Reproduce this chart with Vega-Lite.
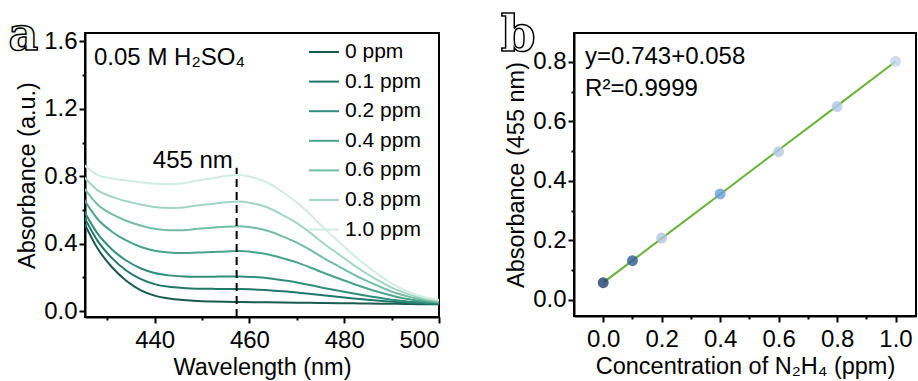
{
"$schema":"https://vega.github.io/schema/vega-lite/v6.json",
"background":"white",
"padding":{"left":7,"top":9,"right":0,"bottom":0},
"bounds":"flush",
"spacing":135,
"resolve":{"scale":{"color":"independent"},"legend":{"color":"independent"}},
"config":{
 "font":"Liberation Sans",
 "view":{"stroke":"black","strokeWidth":2},
 "axis":{"grid":false,"domainColor":"black","domainWidth":2,"tickColor":"black","tickWidth":2,"tickSize":6,"labelFontSize":24,"labelColor":"black","labelPadding":2,"titleFontSize":23.5,"titleFontWeight":"normal","titleColor":"black","labelOverlap":false},
 "axisBottom":{"labelPadding":5},
 "text":{"font":"Liberation Sans","color":"black"}
},
"hconcat":[
{
 "width":354,"height":284,
 "resolve":{"axis":{"x":"independent","y":"independent"}},
 "layer":[
 {
  "data":{"values":[
{"c":"0 ppm","w":425,"a":0.53},{"c":"0 ppm","w":428,"a":0.37},{"c":"0 ppm","w":431,"a":0.26},{"c":"0 ppm","w":434,"a":0.18},{"c":"0 ppm","w":437,"a":0.125},{"c":"0 ppm","w":440,"a":0.092},{"c":"0 ppm","w":443,"a":0.075},{"c":"0 ppm","w":446,"a":0.066},{"c":"0 ppm","w":449,"a":0.06},{"c":"0 ppm","w":452,"a":0.057},{"c":"0 ppm","w":455,"a":0.055},{"c":"0 ppm","w":458,"a":0.054},{"c":"0 ppm","w":461,"a":0.053},{"c":"0 ppm","w":464,"a":0.052},{"c":"0 ppm","w":467,"a":0.051},{"c":"0 ppm","w":470,"a":0.05},{"c":"0 ppm","w":473,"a":0.049},{"c":"0 ppm","w":476,"a":0.048},{"c":"0 ppm","w":479,"a":0.047},{"c":"0 ppm","w":482,"a":0.046},{"c":"0 ppm","w":485,"a":0.045},{"c":"0 ppm","w":488,"a":0.044},{"c":"0 ppm","w":491,"a":0.043},{"c":"0 ppm","w":494,"a":0.042},{"c":"0 ppm","w":497,"a":0.041},{"c":"0 ppm","w":500,"a":0.04},
{"c":"0.1 ppm","w":425,"a":0.565},{"c":"0.1 ppm","w":428,"a":0.415},{"c":"0.1 ppm","w":431,"a":0.314},{"c":"0.1 ppm","w":434,"a":0.241},{"c":"0.1 ppm","w":437,"a":0.191},{"c":"0.1 ppm","w":440,"a":0.16},{"c":"0.1 ppm","w":443,"a":0.144},{"c":"0.1 ppm","w":446,"a":0.137},{"c":"0.1 ppm","w":449,"a":0.133},{"c":"0.1 ppm","w":452,"a":0.132},{"c":"0.1 ppm","w":455,"a":0.131},{"c":"0.1 ppm","w":458,"a":0.131},{"c":"0.1 ppm","w":461,"a":0.128},{"c":"0.1 ppm","w":464,"a":0.124},{"c":"0.1 ppm","w":467,"a":0.118},{"c":"0.1 ppm","w":470,"a":0.111},{"c":"0.1 ppm","w":473,"a":0.102},{"c":"0.1 ppm","w":476,"a":0.093},{"c":"0.1 ppm","w":479,"a":0.084},{"c":"0.1 ppm","w":482,"a":0.075},{"c":"0.1 ppm","w":485,"a":0.067},{"c":"0.1 ppm","w":488,"a":0.06},{"c":"0.1 ppm","w":491,"a":0.054},{"c":"0.1 ppm","w":494,"a":0.049},{"c":"0.1 ppm","w":497,"a":0.045},{"c":"0.1 ppm","w":500,"a":0.043},
{"c":"0.2 ppm","w":425,"a":0.598},{"c":"0.2 ppm","w":428,"a":0.458},{"c":"0.2 ppm","w":431,"a":0.366},{"c":"0.2 ppm","w":434,"a":0.3},{"c":"0.2 ppm","w":437,"a":0.254},{"c":"0.2 ppm","w":440,"a":0.226},{"c":"0.2 ppm","w":443,"a":0.212},{"c":"0.2 ppm","w":446,"a":0.206},{"c":"0.2 ppm","w":449,"a":0.204},{"c":"0.2 ppm","w":452,"a":0.204},{"c":"0.2 ppm","w":455,"a":0.206},{"c":"0.2 ppm","w":458,"a":0.206},{"c":"0.2 ppm","w":461,"a":0.202},{"c":"0.2 ppm","w":464,"a":0.195},{"c":"0.2 ppm","w":467,"a":0.183},{"c":"0.2 ppm","w":470,"a":0.17},{"c":"0.2 ppm","w":473,"a":0.154},{"c":"0.2 ppm","w":476,"a":0.136},{"c":"0.2 ppm","w":479,"a":0.12},{"c":"0.2 ppm","w":482,"a":0.104},{"c":"0.2 ppm","w":485,"a":0.089},{"c":"0.2 ppm","w":488,"a":0.076},{"c":"0.2 ppm","w":491,"a":0.064},{"c":"0.2 ppm","w":494,"a":0.056},{"c":"0.2 ppm","w":497,"a":0.049},{"c":"0.2 ppm","w":500,"a":0.045},
{"c":"0.4 ppm","w":425,"a":0.666},{"c":"0.4 ppm","w":428,"a":0.545},{"c":"0.4 ppm","w":431,"a":0.471},{"c":"0.4 ppm","w":434,"a":0.419},{"c":"0.4 ppm","w":437,"a":0.382},{"c":"0.4 ppm","w":440,"a":0.358},{"c":"0.4 ppm","w":443,"a":0.347},{"c":"0.4 ppm","w":446,"a":0.344},{"c":"0.4 ppm","w":449,"a":0.347},{"c":"0.4 ppm","w":452,"a":0.35},{"c":"0.4 ppm","w":455,"a":0.354},{"c":"0.4 ppm","w":458,"a":0.356},{"c":"0.4 ppm","w":461,"a":0.349},{"c":"0.4 ppm","w":464,"a":0.336},{"c":"0.4 ppm","w":467,"a":0.314},{"c":"0.4 ppm","w":470,"a":0.289},{"c":"0.4 ppm","w":473,"a":0.257},{"c":"0.4 ppm","w":476,"a":0.223},{"c":"0.4 ppm","w":479,"a":0.192},{"c":"0.4 ppm","w":482,"a":0.161},{"c":"0.4 ppm","w":485,"a":0.133},{"c":"0.4 ppm","w":488,"a":0.107},{"c":"0.4 ppm","w":491,"a":0.085},{"c":"0.4 ppm","w":494,"a":0.069},{"c":"0.4 ppm","w":497,"a":0.058},{"c":"0.4 ppm","w":500,"a":0.051},
{"c":"0.6 ppm","w":425,"a":0.733},{"c":"0.6 ppm","w":428,"a":0.631},{"c":"0.6 ppm","w":431,"a":0.575},{"c":"0.6 ppm","w":434,"a":0.536},{"c":"0.6 ppm","w":437,"a":0.508},{"c":"0.6 ppm","w":440,"a":0.488},{"c":"0.6 ppm","w":443,"a":0.48},{"c":"0.6 ppm","w":446,"a":0.48},{"c":"0.6 ppm","w":449,"a":0.488},{"c":"0.6 ppm","w":452,"a":0.494},{"c":"0.6 ppm","w":455,"a":0.501},{"c":"0.6 ppm","w":458,"a":0.504},{"c":"0.6 ppm","w":461,"a":0.494},{"c":"0.6 ppm","w":464,"a":0.475},{"c":"0.6 ppm","w":467,"a":0.443},{"c":"0.6 ppm","w":470,"a":0.406},{"c":"0.6 ppm","w":473,"a":0.36},{"c":"0.6 ppm","w":476,"a":0.309},{"c":"0.6 ppm","w":479,"a":0.263},{"c":"0.6 ppm","w":482,"a":0.217},{"c":"0.6 ppm","w":485,"a":0.176},{"c":"0.6 ppm","w":488,"a":0.139},{"c":"0.6 ppm","w":491,"a":0.106},{"c":"0.6 ppm","w":494,"a":0.083},{"c":"0.6 ppm","w":497,"a":0.066},{"c":"0.6 ppm","w":500,"a":0.056},
{"c":"0.8 ppm","w":425,"a":0.799},{"c":"0.8 ppm","w":428,"a":0.716},{"c":"0.8 ppm","w":431,"a":0.678},{"c":"0.8 ppm","w":434,"a":0.652},{"c":"0.8 ppm","w":437,"a":0.633},{"c":"0.8 ppm","w":440,"a":0.617},{"c":"0.8 ppm","w":443,"a":0.612},{"c":"0.8 ppm","w":446,"a":0.615},{"c":"0.8 ppm","w":449,"a":0.627},{"c":"0.8 ppm","w":452,"a":0.636},{"c":"0.8 ppm","w":455,"a":0.646},{"c":"0.8 ppm","w":458,"a":0.651},{"c":"0.8 ppm","w":461,"a":0.638},{"c":"0.8 ppm","w":464,"a":0.613},{"c":"0.8 ppm","w":467,"a":0.57},{"c":"0.8 ppm","w":470,"a":0.522},{"c":"0.8 ppm","w":473,"a":0.461},{"c":"0.8 ppm","w":476,"a":0.394},{"c":"0.8 ppm","w":479,"a":0.334},{"c":"0.8 ppm","w":482,"a":0.273},{"c":"0.8 ppm","w":485,"a":0.218},{"c":"0.8 ppm","w":488,"a":0.169},{"c":"0.8 ppm","w":491,"a":0.127},{"c":"0.8 ppm","w":494,"a":0.096},{"c":"0.8 ppm","w":497,"a":0.074},{"c":"0.8 ppm","w":500,"a":0.061},
{"c":"1.0 ppm","w":425,"a":0.869},{"c":"1.0 ppm","w":428,"a":0.807},{"c":"1.0 ppm","w":431,"a":0.787},{"c":"1.0 ppm","w":434,"a":0.775},{"c":"1.0 ppm","w":437,"a":0.765},{"c":"1.0 ppm","w":440,"a":0.755},{"c":"1.0 ppm","w":443,"a":0.753},{"c":"1.0 ppm","w":446,"a":0.759},{"c":"1.0 ppm","w":449,"a":0.775},{"c":"1.0 ppm","w":452,"a":0.787},{"c":"1.0 ppm","w":455,"a":0.801},{"c":"1.0 ppm","w":458,"a":0.807},{"c":"1.0 ppm","w":461,"a":0.791},{"c":"1.0 ppm","w":464,"a":0.76},{"c":"1.0 ppm","w":467,"a":0.706},{"c":"1.0 ppm","w":470,"a":0.645},{"c":"1.0 ppm","w":473,"a":0.569},{"c":"1.0 ppm","w":476,"a":0.485},{"c":"1.0 ppm","w":479,"a":0.408},{"c":"1.0 ppm","w":482,"a":0.332},{"c":"1.0 ppm","w":485,"a":0.263},{"c":"1.0 ppm","w":488,"a":0.202},{"c":"1.0 ppm","w":491,"a":0.148},{"c":"1.0 ppm","w":494,"a":0.11},{"c":"1.0 ppm","w":497,"a":0.082},{"c":"1.0 ppm","w":500,"a":0.066}
  ]},
  "mark":{"type":"line","strokeWidth":2,"interpolate":"monotone","clip":true},
  "encoding":{
   "x":{"field":"w","type":"quantitative","scale":{"domain":[425.3,500],"nice":false,"zero":false},"axis":{"orient":"bottom","title":"Wavelength (nm)","values":[440,460,480,500],"titlePadding":3}},
   "y":{"field":"a","type":"quantitative","scale":{"domain":[-0.035,1.65],"nice":false,"zero":false},"axis":{"orient":"left","title":"Absorbance (a.u.)","values":[0,0.4,0.8,1.2,1.6],"format":".1f","titlePadding":4}},
   "color":{"field":"c","type":"nominal","sort":null,"scale":{"domain":["0 ppm","0.1 ppm","0.2 ppm","0.4 ppm","0.6 ppm","0.8 ppm","1.0 ppm"],"range":["#1b5a4f","#21786a","#2f8d79","#4ba38b","#74bca3","#a3d5c2","#d2ece2"]},
    "legend":{"orient":"none","legendX":223,"legendY":3,"title":null,"symbolType":"stroke","symbolSize":900,"symbolStrokeWidth":2,"labelFontSize":21,"labelOffset":5,"rowPadding":3.6,"labelColor":"black","symbolLimit":0}}
  }
 },
 {
  "data":{"values":[{"w":457.3,"a":-0.035,"a2":0.85}]},
  "mark":{"type":"rule","strokeDash":[8,5],"strokeWidth":2,"color":"black"},
  "encoding":{
   "x":{"field":"w","type":"quantitative","scale":{"domain":[425.3,500],"nice":false,"zero":false},"axis":{"orient":"bottom","values":[430,450,470,490],"labels":false,"domain":false,"tickSize":3,"title":null}},
   "y":{"field":"a","type":"quantitative","scale":{"domain":[-0.035,1.65],"nice":false,"zero":false},"axis":{"orient":"left","values":[0.2,0.6,1.0,1.4],"labels":false,"domain":false,"tickSize":3,"title":null}},
   "y2":{"field":"a2"}
  }
 },
 {
  "data":{"values":[{"w":456.5,"a":0.89,"t":"455 nm"}]},
  "mark":{"type":"text","align":"right","baseline":"middle","fontSize":24},
  "encoding":{
   "x":{"field":"w","type":"quantitative","axis":null},
   "y":{"field":"a","type":"quantitative","axis":null},
   "text":{"field":"t"}
  }
 },
 {
  "data":{"values":[{"w":427.2,"a":1.5,"t":"0.05 M H₂SO₄"}]},
  "mark":{"type":"text","align":"left","baseline":"middle","fontSize":24},
  "encoding":{
   "x":{"field":"w","type":"quantitative","axis":null},
   "y":{"field":"a","type":"quantitative","axis":null},
   "text":{"field":"t"}
  }
 },
 {
  "data":{"values":[{"w":412.3,"a":1.63,"t":"a"}]},
  "mark":{"type":"text","align":"center","baseline":"middle","fontSize":46,"font":"DejaVu Serif","fontWeight":"bold","fill":"white","stroke":"black","strokeWidth":1.5,"clip":false},
  "encoding":{
   "x":{"field":"w","type":"quantitative","axis":null},
   "y":{"field":"a","type":"quantitative","axis":null},
   "text":{"field":"t"}
  }
 }
 ]
},
{
 "width":342,"height":283,
 "resolve":{"axis":{"x":"independent","y":"independent"}},
 "data":{"values":[
  {"c":0,"a":0.058,"fit":0.058},{"c":0.1,"a":0.132,"fit":0.132},{"c":0.2,"a":0.208,"fit":0.207},{"c":0.4,"a":0.356,"fit":0.355},{"c":0.6,"a":0.498,"fit":0.504},{"c":0.8,"a":0.65,"fit":0.652},{"c":1.0,"a":0.802,"fit":0.801}
 ]},
 "layer":[
 {
  "mark":{"type":"line","color":"#6ab23a","strokeWidth":2},
  "encoding":{
   "x":{"field":"c","type":"quantitative","scale":{"domain":[-0.1,1.07],"nice":false,"zero":false},"axis":{"orient":"bottom","title":"Concentration of N₂H₄ (ppm)","values":[0,0.2,0.4,0.6,0.8,1.0],"format":".1f","titlePadding":3}},
   "y":{"field":"fit","type":"quantitative","scale":{"domain":[-0.054,0.897],"nice":false,"zero":false},"axis":{"orient":"left","title":"Absorbance (455 nm)","values":[0,0.2,0.4,0.6,0.8],"format":".1f","titlePadding":4}}
  }
 },
 {
  "mark":{"type":"point","filled":true,"size":120,"opacity":0.8,"strokeWidth":1.5},
  "encoding":{
   "x":{"field":"c","type":"quantitative","scale":{"domain":[-0.1,1.07],"nice":false,"zero":false},"axis":{"orient":"bottom","values":[0.1,0.3,0.5,0.7,0.9],"labels":false,"domain":false,"tickSize":3,"title":null}},
   "y":{"field":"a","type":"quantitative","scale":{"domain":[-0.054,0.897],"nice":false,"zero":false},"axis":{"orient":"left","values":[0.1,0.3,0.5,0.7],"labels":false,"domain":false,"tickSize":3,"title":null}},
   "color":{"field":"c","type":"nominal","scale":{"domain":[0,0.1,0.2,0.4,0.6,0.8,1],"range":["#23406e","#2f5b96","#b4c6de","#6d9be0","#b3c9e9","#b3c9e9","#c5d5ea"]},"legend":null}
  }
 },
 {
  "data":{"values":[{"c":-0.062,"a":0.817,"t":"y=0.743+0.058"},{"c":-0.062,"a":0.709,"t":"R²=0.9999"}]},
  "mark":{"type":"text","align":"left","baseline":"middle","fontSize":24},
  "encoding":{
   "x":{"field":"c","type":"quantitative","axis":null},
   "y":{"field":"a","type":"quantitative","axis":null},
   "text":{"field":"t"}
  }
 },
 {
  "data":{"values":[{"c":-0.291,"a":0.887,"t":"b"}]},
  "mark":{"type":"text","align":"center","baseline":"middle","fontSize":50,"font":"DejaVu Serif","fontWeight":"bold","fill":"white","stroke":"black","strokeWidth":1.5,"clip":false},
  "encoding":{
   "x":{"field":"c","type":"quantitative","axis":null},
   "y":{"field":"a","type":"quantitative","axis":null},
   "text":{"field":"t"}
  }
 }
 ]
}
]
}
